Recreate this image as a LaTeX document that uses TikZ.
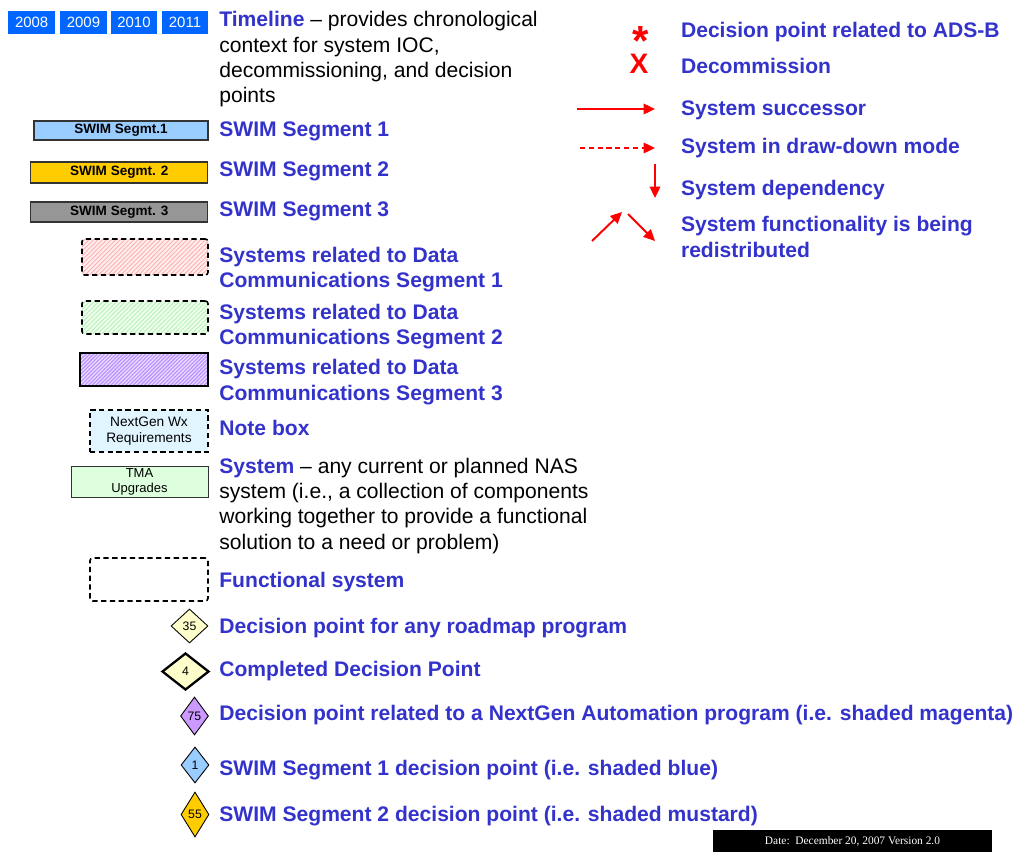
\documentclass[tikz,border=0pt]{standalone}
\usepackage{fontspec}
\setmainfont{Liberation Sans}
\newfontfamily\datefont{Liberation Serif}
\usetikzlibrary{shapes,positioning,arrows.meta,patterns.meta}
\definecolor{labblue}{RGB}{51,51,204}
\definecolor{yearblue}{RGB}{0,102,255}
\definecolor{swimblue}{RGB}{153,204,255}
\definecolor{mustard}{RGB}{255,204,0}
\definecolor{swimgray}{RGB}{150,150,150}
\definecolor{notecyan}{RGB}{224,245,255}
\definecolor{sysgreen}{RGB}{221,255,221}
\definecolor{decyellow}{RGB}{255,255,204}
\definecolor{magent}{RGB}{204,153,255}
\definecolor{arrred}{RGB}{255,0,0}

\begin{document}
\begin{tikzpicture}
  [x=0.02cm,y=-0.02cm,
   yearN/.style={fill=yearblue,text=white,inner sep=0,minimum width=0.94cm,
                 minimum height=0.46cm,font=\fontsize{8.5}{10}\selectfont},
   segN/.style={draw=black!80,line width=0.6pt,inner sep=0,minimum height=0.4cm,
                font=\fontsize{7.7}{9}\selectfont\bfseries},
   hatchN/.style={draw,inner sep=0,line width=0.9pt,dash pattern=on 3pt off 2pt,
                  rounded corners=1.5pt},
   noteN/.style={draw,fill=notecyan,inner sep=0,line width=0.9pt,
                 dash pattern=on 3pt off 2pt,align=center,font=\fontsize{7.8}{9}\selectfont},
   sysN/.style={draw=black!80,fill=sysgreen,inner sep=0,line width=0.5pt,
                align=center,font=\fontsize{7.4}{8.6}\selectfont},
   decN/.style={diamond,draw,fill=decyellow,inner sep=0,line width=0.5pt,
                font=\fontsize{7}{8}\selectfont},
   labN/.style={anchor=base west,inner sep=0,text=labblue,align=left,
                font=\fontsize{12}{14.4}\selectfont\bfseries},
   txtN/.style={anchor=base west,inner sep=0,align=left,
                font=\fontsize{12}{14.4}\selectfont},
   redA/.style={draw=arrred,line width=1.1pt,-{Triangle[length=6.5pt,width=6pt]}},
  ]
 \useasboundingbox (0,0) rectangle (1024,852);

 \node[yearN] (y08) at (31.7,22.5) {2008};
 \node[yearN] (y09) at (83.5,22.5) {2009};
 \node[yearN] (y10) at (134,22.5) {2010};
 \node[yearN] (y11) at (185,22.5) {2011};
 \node[txtN] (tTime) at (219,102.6) {{\bfseries\color{labblue}Timeline} -- provides chronological\\
   context for system IOC,\\decommissioning, and decision\\points};

 \node[segN,fill=swimblue,minimum width=3.48cm,minimum height=0.38cm] (seg1) at (121,130.5) {SWIM Segmt.1};
 \node[segN,fill=mustard,minimum width=3.54cm,minimum height=0.42cm] (seg2) at (119.3,172.5) {SWIM Segmt. 2};
 \node[segN,fill=swimgray,minimum width=3.54cm] (seg3) at (119.3,212) {SWIM Segmt. 3};
 \node[labN] (tSeg1) at (219,136.5) {SWIM Segment 1};
 \node[labN] (tSeg2) at (219,176.5) {SWIM Segment 2};
 \node[labN] (tSeg3) at (219,216.5) {SWIM Segment 3};

 \node[hatchN,minimum width=2.52cm,minimum height=0.72cm,
       preaction={fill={rgb,255:red,255;green,238;blue,238}},
       pattern={Lines[angle=45,distance=1.8pt,line width=0.5pt]},
       pattern color={rgb,255:red,255;green,175;blue,175}] (dc1) at (145,257) {};
 \node[hatchN,minimum width=2.52cm,minimum height=0.66cm,
       preaction={fill={rgb,255:red,238;green,255;blue,238}},
       pattern={Lines[angle=45,distance=1.8pt,line width=0.5pt]},
       pattern color={rgb,255:red,185;green,240;blue,185}] (dc2) at (145,317.5) {};
 \node[draw,inner sep=0,line width=0.8pt,minimum width=2.56cm,minimum height=0.66cm,
       preaction={fill={rgb,255:red,190;green,150;blue,255}},
       pattern={Lines[angle=45,distance=1.5pt,line width=0.55pt]},
       pattern color={rgb,255:red,240;green,230;blue,255}] (dc3) at (144,369.5) {};
 \node[labN] (tDc1) at (219,287.7) {Systems related to Data\\Communications Segment 1};
 \node[labN] (tDc2) at (219,344.3) {Systems related to Data\\Communications Segment 2};
 \node[labN] (tDc3) at (219,400) {Systems related to Data\\Communications Segment 3};

 \node[noteN,minimum width=2.36cm,minimum height=0.84cm] (note) at (149,431) {NextGen Wx\\Requirements};
 \node[labN] (tNote) at (219,435) {Note box};

 \node[sysN,minimum width=2.74cm,minimum height=0.62cm] (tma) at (139.5,481.5) {TMA\\Upgrades};
 \node[txtN] (tSys) at (219,549) {{\bfseries\color{labblue}System} -- any current or planned NAS\\
   system (i.e., a collection of components\\working together to provide a functional\\
   solution to a need or problem)};

 \node[hatchN,minimum width=2.36cm,minimum height=0.86cm] (func) at (149,579.5) {};
 \node[labN] (tFunc) at (219,587.7) {Functional system};

 \node[decN,minimum width=0.74cm,minimum height=0.68cm] (d35) at (189.5,626) {35};
 \node[decN,line width=1.3pt,minimum width=0.94cm,minimum height=0.74cm] (d4) at (185.5,671.5) {4};
 \node[decN,fill=magent,minimum width=0.56cm,minimum height=0.76cm] (d75) at (194.5,716) {75};
 \node[decN,fill=swimblue,minimum width=0.56cm,minimum height=0.72cm] (d1) at (195,765) {1};
 \node[decN,fill=mustard,minimum width=0.56cm,minimum height=0.9cm] (d55) at (195,814.5) {55};
 \node[labN] (tD35) at (219,633.3) {Decision point for any roadmap program};
 \node[labN] (tD4) at (219,676.7) {Completed Decision Point};
 \node[labN] (tD75) at (219,720) {Decision point related to a NextGen Automation program (i.e. shaded magenta)};
 \node[labN] (tD1) at (219,775) {SWIM Segment 1 decision point (i.e. shaded blue)};
 \node[labN] (tD55) at (219,821.7) {SWIM Segment 2 decision point (i.e. shaded mustard)};

 \node[text=arrred,inner sep=0,anchor=base,text height=9.8pt,text depth=0pt,
       font=\fontsize{24}{24}\selectfont\bfseries] (ast) at (640.5,43) {\raisebox{-6.9pt}{*}};
 \node[text=arrred,inner sep=0,anchor=base,font=\fontsize{16}{16}\selectfont\bfseries] (dcm) at (639,73) {X};
 \node[labN] (tAst) at (680.7,37.3) {Decision point related to ADS-B};
 \node[labN] (tDcm) at (680.7,73.3) {Decommission};

 \coordinate (sucA) at (577,109);
 \coordinate (sucB) at (655,109);
 \coordinate (ddA) at (580,148);
 \coordinate (ddB) at (655,148);
 \coordinate (depA) at (655,164);
 \coordinate (depB) at (655,198);
 \coordinate (rdA) at (592,241);
 \coordinate (rdB) at (622,212);
 \coordinate (rdC) at (628,214);
 \coordinate (rdD) at (655,241);
 \draw[redA] (sucA) -- (sucB);
 \draw[redA,dash pattern=on 3pt off 2pt] (ddA) -- (ddB);
 \draw[redA] (depA) -- (depB);
 \draw[redA] (rdA) -- (rdB);
 \draw[redA] (rdC) -- (rdD);
 \node[labN] (tSuc) at (680.7,115) {System successor};
 \node[labN] (tDd) at (680.7,153.3) {System in draw-down mode};
 \node[labN] (tDep) at (680.7,195) {System dependency};
 \node[labN] (tRd) at (680.7,257) {System functionality is being\\redistributed};

 \node[fill=black,text=white,inner sep=0,minimum width=5.58cm,minimum height=0.44cm,
       font=\datefont\fontsize{6.5}{8}\selectfont] (date) at (852.5,841) {Date:\ \ December 20, 2007 Version 2.0};
\end{tikzpicture}
\end{document}
